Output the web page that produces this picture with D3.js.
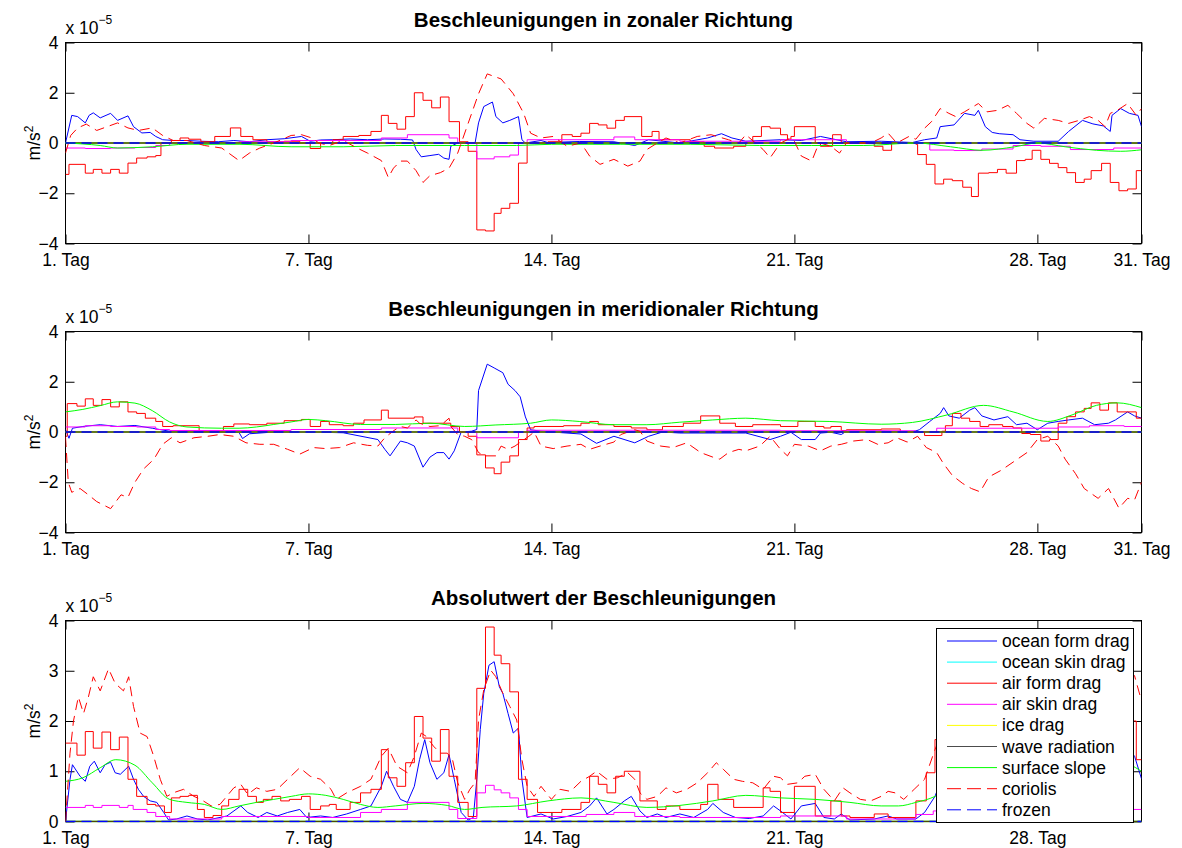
<!DOCTYPE html>
<html>
<head>
<meta charset="utf-8">
<script src="https://cdn.jsdelivr.net/npm/d3@7"></script>
<style>
  body { margin: 0; background: #fff; }
  svg text { font-family: "Liberation Sans", Arial, Helvetica, sans-serif; }
</style>
</head>
<body>
<svg id="chart" width="1182" height="848"></svg>
<script>
// x axis: days since start, labelled as "n. Tag"
const dayTicks = [0, 7, 14, 21, 28, 31];
const dayTickLabels = ['1. Tag', '7. Tag', '14. Tag', '21. Tag', '28. Tag', '31. Tag'];
const signedTicks = [-4, -2, 0, 2, 4];
const absTicks = [0, 1, 2, 3, 4];

const panelTitles = [
    'Beschleunigungen in zonaler Richtung',
    'Beschleunigungen in meridionaler Richtung',
    'Absolutwert der Beschleunigungen'
];

const seriesNames = ['ocean form drag', 'ocean skin drag', 'air form drag', 'air skin drag',
    'ice drag', 'wave radiation', 'surface slope', 'coriolis', 'frozen'];
const seriesColors = ['#0000ff', '#00ffff', '#ff0000', '#ff00ff',
    '#ffff00', '#000000', '#00ff00', '#ff0000', '#0000ff'];

// values in 1e-5 m/s^2, [day, value]
const zeroSeries = [[0, 0], [31, 0]];

// ---- zonal ----
const zonalOceanForm = [[0,0],[0.18,1.1],[0.35,1.05],[0.57,0.8],[0.68,1.1],[0.8,1.2],[1.0,1.0],[1.3,1.18],[1.5,0.9],[1.8,1.08],[1.96,0.65],[2.2,0.4],[2.44,0.42],[2.6,0.26],[2.8,0.13],[3.1,0.1],[3.5,0.1],[3.9,0.07],[4.4,0.05],[4.85,0.1],[5.3,0.05],[5.8,0.13],[6.3,0.17],[6.8,0.26],[7.05,0.07],[7.35,0.12],[7.7,0.13],[8.2,0.16],[8.7,0.13],[9.2,0.16],[9.65,0.15],[10.0,0.12],[10.1,-0.26],[10.25,-0.55],[10.5,-0.5],[10.75,-0.45],[10.9,-0.6],[11.05,-0.65],[11.1,-0.13],[11.3,0],[11.8,0],[11.9,0.8],[12.05,1.45],[12.3,1.63],[12.4,1.05],[12.6,0.8],[12.8,0.9],[13.05,1.05],[13.15,0.13],[13.25,0],[13.7,0.1],[13.9,0.02],[14.8,0.06],[15.8,0.05],[16.4,-0.1],[16.8,0.13],[17.7,0],[18.5,0.2],[18.9,0.37],[19.2,0.2],[19.6,0.07],[20.6,0.13],[21.2,0.1],[21.75,0.26],[22.5,0.05],[23.5,0.07],[24.4,0.02],[24.75,0.13],[25.1,0.2],[25.2,0.65],[25.6,0.72],[25.9,1.18],[26.2,1.1],[26.3,1.3],[26.5,0.65],[26.7,0.42],[26.9,0.37],[27.3,0.33],[27.5,0.13],[27.9,0.07],[28.6,0.07],[28.9,0.46],[29.3,0.9],[29.6,0.76],[29.9,0.68],[30.1,0.46],[30.15,1.1],[30.4,1.37],[30.65,1.18],[30.9,1.1],[31,0.65]];
const zonalAirForm = [[0,-1.25],[0.1,-0.85],[0.57,-1.2],[0.8,-1.05],[1.05,-1.2],[1.3,-1.05],[1.55,-1.2],[1.8,-0.8],[2.05,-0.6],[2.35,-0.55],[2.6,-0.5],[2.75,0],[3.05,0.1],[3.3,0.2],[3.55,0.15],[3.9,0.05],[4.3,0.26],[4.75,0.6],[5.05,0.26],[5.4,0.13],[5.8,0.05],[6.3,0.07],[6.75,0],[7.05,-0.22],[7.35,0],[7.7,0.13],[8.0,0.26],[8.45,0.3],[8.8,0.46],[9.1,1.1],[9.3,0.78],[9.55,0.55],[9.8,1.05],[10.05,2.0],[10.3,1.7],[10.55,1.4],[10.8,1.83],[11.05,0.85],[11.35,0.05],[11.6,-0.33],[11.85,-3.46],[12.1,-3.5],[12.35,-2.8],[12.55,-2.6],[12.8,-2.4],[13.05,-0.8],[13.3,0],[13.9,0.05],[14.3,0.33],[14.6,0.26],[14.85,0.39],[15.1,0.78],[15.35,0.72],[15.6,0.59],[15.85,0.9],[16.1,1.05],[16.6,0.26],[16.9,0.46],[17.1,0.13],[17.5,0.13],[18.0,0.05],[18.4,-0.13],[18.7,-0.2],[19.25,-0.13],[19.6,0],[19.8,0.26],[20.05,0.65],[20.3,0.59],[20.6,0.33],[20.8,0.15],[20.9,0.26],[21.0,0.65],[21.6,0],[21.75,-0.13],[22.1,0.33],[22.35,0],[23.0,-0.02],[23.3,-0.13],[23.55,-0.29],[23.8,0],[24.5,-0.05],[24.55,-0.46],[24.8,-0.85],[25.05,-1.63],[25.3,-1.44],[25.55,-1.5],[25.85,-1.76],[26.1,-2.13],[26.3,-1.2],[26.6,-1.18],[26.85,-1.05],[27.1,-1.2],[27.4,-0.7],[27.65,-0.65],[27.85,-0.29],[28.1,-0.65],[28.35,-0.81],[28.6,-0.98],[28.85,-1.18],[29.1,-1.57],[29.35,-1.44],[29.55,-1.1],[29.85,-0.81],[30.1,-1.57],[30.35,-1.9],[30.6,-1.83],[30.85,-1.1],[31,-1.1]];
const zonalAirSkin = [[0,-0.2],[0.57,-0.22],[1.3,-0.2],[2.0,-0.18],[2.6,-0.1],[3.0,0.0],[5.0,0.05],[6.5,0.1],[9.1,0.2],[9.85,0.33],[11.05,0.2],[11.3,0],[11.85,-0.63],[12.35,-0.55],[12.8,-0.48],[13.05,0],[13.3,0.13],[15.8,0.24],[16.4,0.13],[17.7,0.07],[20.6,0.13],[22.5,0],[24.9,-0.28],[25.6,-0.3],[26.4,-0.24],[27.3,-0.1],[28.1,-0.13],[28.95,-0.26],[30.2,-0.2],[31,-0.2]];
const zonalSlope = [[0,0],[1,-0.1],[1.5,-0.2],[2.5,-0.15],[3.5,-0.05],[5,-0.05],[6.5,-0.15],[8,-0.15],[9.5,-0.1],[11.5,-0.1],[13,-0.1],[14,-0.05],[16,-0.05],[18,-0.05],[20,-0.1],[21.5,-0.1],[23,-0.1],[24.5,0],[25.5,-0.15],[26.4,-0.29],[27.35,-0.15],[28.0,0],[28.8,-0.15],[29.7,-0.29],[30.4,-0.33],[31,-0.27]];
const zonalCoriolis = [[0,-0.4],[0.15,0.3],[0.35,0.6],[0.6,0.75],[0.9,0.5],[1.2,0.65],[1.5,0.8],[1.8,0.6],[2.1,0.5],[2.5,0.6],[2.8,0.3],[3.1,0.1],[3.5,0.1],[4.0,-0.1],[4.5,-0.2],[5.0,-0.7],[5.3,-0.4],[5.6,-0.2],[6.0,0.0],[6.5,0.3],[6.8,0.33],[7.1,0.2],[7.3,0.0],[7.6,-0.1],[8.0,0.1],[8.4,-0.2],[8.7,-0.4],[9.1,-0.7],[9.3,-1.37],[9.45,-1.0],[9.65,-0.72],[9.85,-0.72],[10.1,-1.1],[10.3,-1.57],[10.5,-1.3],[10.8,-1.18],[11.05,-1.0],[11.3,-0.4],[11.6,0.78],[11.9,1.96],[12.15,2.75],[12.55,2.55],[12.9,1.96],[13.2,1.18],[13.4,0.39],[13.7,0.2],[14.05,0.26],[14.45,-0.13],[14.85,0],[15.1,-0.52],[15.4,-0.85],[15.8,-0.65],[16.2,-0.92],[16.55,-0.72],[16.75,-0.26],[17.05,0],[17.3,0.2],[17.7,0],[18.2,0.26],[18.6,0.33],[19.1,0.13],[19.4,0],[19.6,0.33],[20.1,-0.26],[20.3,-0.59],[20.6,0],[20.9,0.2],[21.0,0.07],[21.2,-0.52],[21.5,-0.72],[21.65,-0.2],[21.75,0],[22.05,-0.13],[22.3,-0.4],[22.5,0],[23.2,0],[23.5,0.2],[23.7,0.39],[23.95,0],[24.3,0.26],[24.5,0.15],[24.75,0.59],[24.95,0.85],[25.2,1.37],[25.45,1.18],[25.65,1.05],[25.9,1.24],[26.3,1.57],[26.55,1.24],[26.85,1.3],[27.15,1.5],[27.4,1.18],[27.7,0.78],[27.9,0.59],[28.2,0.98],[28.6,0.9],[28.9,0.78],[29.2,0.9],[29.5,1.05],[29.75,0.9],[29.95,0.65],[30.1,1.18],[30.3,1.3],[30.6,1.57],[30.85,1.1],[31,1.37]];

// ---- meridional ----
const meridOceanForm = [[0,0.1],[0.1,-0.25],[0.2,0.15],[0.5,0.22],[1.0,0.29],[1.5,0.22],[2.0,0.26],[2.5,0.15],[3.0,0.03],[4.0,0],[5.0,-0.02],[5.1,-0.26],[5.3,-0.07],[6.0,0],[7.0,0],[8.0,-0.03],[9.0,-0.3],[9.2,-0.69],[9.35,-0.95],[9.65,-0.36],[9.85,-0.43],[10.05,-0.56],[10.3,-1.4],[10.5,-1.0],[10.7,-0.82],[10.9,-0.82],[11.05,-1.08],[11.2,-0.75],[11.4,0],[11.7,0.03],[11.85,0.1],[11.9,1.65],[12.15,2.7],[12.35,2.55],[12.6,2.36],[12.75,1.9],[12.95,1.65],[13.1,1.4],[13.25,0.6],[13.4,0.09],[13.7,0.03],[14.85,-0.08],[15.3,-0.45],[15.8,-0.17],[16.4,-0.43],[16.8,-0.17],[17.2,0],[17.7,-0.04],[18.65,-0.04],[19.6,-0.04],[20.3,-0.3],[20.6,-0.17],[20.9,-0.01],[21.2,-0.3],[21.6,-0.3],[21.75,-0.04],[22.05,-0.01],[22.35,-0.1],[22.5,0.03],[23.5,0.03],[24.4,0],[24.6,0.09],[24.9,0.42],[25.2,0.74],[25.3,0.97],[25.45,0.64],[25.75,0.55],[26.05,0.87],[26.2,0.97],[26.4,0.64],[26.75,0.48],[27.15,0.61],[27.4,0.29],[27.7,0.35],[28.0,0.09],[28.3,0.35],[28.6,0.42],[28.9,0.48],[29.3,0.55],[29.65,0.29],[30.05,0.35],[30.25,0.48],[30.6,0.8],[30.8,0.64],[31,0.55]];
const meridAirForm = [[0,-0.17],[0.05,1.13],[0.33,1.03],[0.57,1.32],[0.8,1.06],[1.05,1.29],[1.3,1.0],[1.55,1.2],[1.8,0.8],[2.05,0.74],[2.3,0.55],[2.6,0.42],[2.8,0.22],[3.1,0.25],[3.85,0.03],[4.55,0.22],[4.85,0.32],[5.3,0.29],[5.8,0.35],[6.3,0.45],[6.8,0.5],[7.05,0.22],[7.35,0.42],[7.6,0.29],[8.0,0.25],[8.3,0.35],[8.6,0.48],[9.1,0.87],[9.3,0.55],[10.05,0.6],[10.3,0.35],[11.1,0.22],[11.35,0],[11.6,-0.17],[11.85,-0.91],[12.1,-1.43],[12.35,-1.66],[12.55,-1.2],[12.8,-0.95],[13.05,-0.3],[13.3,0.16],[13.5,0.22],[14.35,0.25],[14.85,0.35],[15.1,0.42],[15.35,0.29],[15.8,0.22],[16.3,0.16],[16.75,0.09],[17.2,0.22],[17.8,0.35],[18.3,0.64],[18.85,0.35],[19.3,0.22],[19.8,0.29],[20.3,0.29],[20.6,0.22],[21.1,0.42],[21.6,0.22],[21.85,0.16],[22.05,0.22],[22.35,0.06],[22.5,0.09],[23.5,0.12],[24.05,0],[24.75,-0.14],[25.25,0.03],[25.35,0.25],[25.55,0.74],[25.8,0.55],[26.05,0.42],[26.35,0.22],[26.6,0.29],[27.0,0.22],[27.3,0.16],[27.55,-0.06],[27.8,-0.1],[28.1,-0.36],[28.35,-0.3],[28.6,0.35],[28.85,0.61],[29.1,0.8],[29.35,0.94],[29.55,1.16],[29.8,0.87],[30.05,1.16],[30.3,0.8],[30.6,0.8],[30.85,0.55],[31,0.55]];
const meridAirSkin = [[0,0.2],[0.57,0.25],[1.3,0.22],[2.05,0.2],[2.6,0.1],[3.0,0.06],[6.5,0.1],[9.1,0.16],[11.3,0.0],[11.85,-0.23],[13.05,0],[13.3,0.07],[20.6,0.05],[24.5,0.02],[25.1,0.15],[28.6,0.2],[29.5,0.25],[30.5,0.22],[31,0.2]];
const meridSlope = [[0,0.8],[0.5,0.9],[1.0,1.05],[1.5,1.2],[2.0,1.15],[2.5,0.85],[3.0,0.4],[3.5,0.2],[4.5,0.15],[5.0,0.15],[5.5,0.2],[6.0,0.3],[6.5,0.4],[7.0,0.5],[7.5,0.45],[8.5,0.3],[9.5,0.3],[10.5,0.35],[11.5,0.22],[12.4,0.28],[13.4,0.35],[14.0,0.48],[14.8,0.42],[15.8,0.29],[16.75,0.29],[17.7,0.39],[18.65,0.48],[19.6,0.55],[20.6,0.45],[22.0,0.42],[23.5,0.31],[24.4,0.38],[25.4,0.68],[26.45,1.06],[27.3,0.8],[28.3,0.42],[29.0,0.68],[29.7,1.06],[30.3,1.16],[31,0.97]];
const meridCoriolis = [[0,-0.2],[0.08,-2.0],[0.18,-2.4],[0.42,-2.25],[0.66,-2.5],[0.9,-2.77],[1.3,-3.05],[1.6,-2.5],[1.8,-2.6],[2.0,-2.0],[2.25,-1.47],[2.55,-1.08],[2.8,-0.49],[3.05,-0.23],[3.3,-0.43],[3.7,-0.23],[4.1,-0.17],[4.45,-0.1],[4.85,-0.17],[5.2,-0.43],[5.6,-0.49],[6.0,-0.49],[6.4,-0.69],[6.75,-0.88],[7.15,-0.62],[7.5,-0.66],[7.9,-0.62],[8.3,-0.43],[8.7,-0.53],[9.0,-0.56],[9.2,-0.23],[9.45,0.05],[9.65,0.22],[9.85,0.16],[10.1,0.48],[10.2,0.35],[10.5,0.22],[10.8,0.25],[11.05,0.55],[11.1,0.22],[11.3,-0.1],[11.5,-0.17],[11.7,-0.3],[11.9,-0.82],[12.1,-0.95],[12.4,-0.95],[12.55,-0.56],[12.75,-0.69],[12.95,-0.56],[13.15,-0.36],[13.35,-0.17],[13.5,0],[13.7,-0.56],[14.05,-0.66],[14.45,-0.56],[14.85,-0.49],[15.1,-0.69],[15.4,-0.56],[15.8,-0.4],[16.0,-0.1],[16.4,0.09],[16.55,0.03],[16.75,-0.36],[17.15,-0.56],[17.5,-0.62],[17.9,-0.43],[18.3,-0.82],[18.65,-1.0],[18.85,-1.08],[19.1,-0.82],[19.4,-0.69],[19.6,-0.75],[20.0,-0.56],[20.3,-0.17],[20.6,-0.69],[20.8,-0.95],[21.0,-0.49],[21.4,-0.56],[21.75,-0.75],[22.05,-0.56],[22.35,-0.49],[22.7,-0.36],[23.1,-0.3],[23.4,-0.49],[23.7,-0.43],[23.95,-0.23],[24.25,-0.4],[24.55,-0.17],[24.8,-0.62],[25.1,-0.82],[25.3,-1.27],[25.55,-1.73],[25.85,-2.05],[26.1,-2.25],[26.35,-2.38],[26.6,-1.79],[26.95,-1.53],[27.3,-1.2],[27.7,-0.82],[28.0,-0.3],[28.3,-0.17],[28.6,-0.56],[28.8,-1.08],[29.1,-1.66],[29.35,-2.25],[29.75,-2.64],[30.05,-2.25],[30.35,-3.03],[30.6,-2.64],[30.8,-2.7],[31,-2.0]];

// ---- absolute value ----
const absOceanForm = [[0,0],[0.13,0.84],[0.2,1.13],[0.42,0.9],[0.57,0.8],[0.7,1.1],[0.83,1.2],[1.0,0.97],[1.14,1.13],[1.3,1.18],[1.43,0.97],[1.58,0.94],[1.82,1.1],[1.96,0.84],[2.1,0.64],[2.25,0.5],[2.44,0.41],[2.63,0.38],[2.83,0.18],[2.97,0.03],[3.2,0.05],[3.5,0.11],[3.8,0.05],[4.1,0.03],[4.65,0.11],[5.05,0.31],[5.25,0.18],[5.55,0.08],[5.8,0.18],[6.1,0.11],[6.4,0.18],[6.75,0.24],[6.95,0.08],[7.35,0.11],[7.7,0.08],[8.1,0.15],[8.5,0.24],[8.8,0.31],[9.1,0.7],[9.25,1.0],[9.45,0.7],[9.65,0.44],[9.85,0.38],[10.05,0.7],[10.2,1.23],[10.35,1.63],[10.5,1.17],[10.7,0.84],[10.9,0.97],[11.05,1.33],[11.2,0.84],[11.4,0.18],[11.6,0.03],[11.75,0.08],[11.85,0.84],[11.95,1.83],[12.05,2.55],[12.2,3.11],[12.35,3.18],[12.5,2.68],[12.6,2.55],[12.75,2.15],[12.9,1.76],[13.05,1.86],[13.15,0.84],[13.3,0.08],[13.7,0.15],[14.05,0.05],[14.45,0.1],[14.85,0.18],[15.1,0.31],[15.3,0.47],[15.6,0.15],[15.8,0.24],[16.1,0.41],[16.3,0.5],[16.55,0.21],[16.75,0.08],[17.05,0.15],[17.3,0.08],[17.7,0.15],[18.1,0.08],[18.5,0.24],[18.65,0.36],[18.95,0.18],[19.3,0.08],[19.7,0.06],[20.1,0.11],[20.4,0.31],[20.6,0.21],[20.9,0.05],[21.2,0.31],[21.6,0.36],[21.85,0.08],[22.15,0.05],[22.35,0.15],[22.6,0.03],[23.3,0.05],[23.7,0.11],[23.95,0.05],[24.5,0.05],[24.75,0.18],[25.05,0.5],[25.3,0.95],[25.6,0.92],[25.9,1.3],[26.2,1.47],[26.5,0.88],[27.0,0.55],[27.5,0.3],[28.0,0.12],[28.5,0.4],[29.0,0.65],[29.5,0.9],[30.0,0.8],[30.3,1.4],[30.6,1.45],[30.8,1.3],[31,0.85]];
const absAirForm = [[0,1.56],[0.33,1.32],[0.57,1.79],[0.8,1.46],[1.05,1.78],[1.3,1.43],[1.55,1.68],[1.8,0.84],[2.05,0.5],[2.35,0.34],[2.6,0.31],[2.85,0.18],[3.05,0.47],[3.3,0.5],[3.55,0.52],[3.8,0.24],[4.0,0.08],[4.25,0.12],[4.5,0.31],[4.7,0.44],[5.0,0.64],[5.25,0.5],[5.5,0.38],[5.7,0.44],[5.95,0.5],[6.2,0.41],[6.45,0.44],[6.8,0.5],[7.05,0.24],[7.35,0.31],[7.6,0.34],[7.8,0.24],[8.2,0.38],[8.5,0.57],[8.8,0.64],[9.1,1.43],[9.3,0.87],[9.55,0.7],[9.8,1.17],[10.05,2.09],[10.3,1.66],[10.55,1.2],[10.8,1.83],[11.05,0.9],[11.3,0.38],[11.6,0.1],[11.85,2.65],[12.1,3.87],[12.35,3.31],[12.55,3.14],[12.8,2.58],[13.05,0.84],[13.3,0.44],[13.6,0.18],[14.3,0.24],[14.85,0.38],[15.1,0.9],[15.35,0.74],[15.6,0.57],[15.85,0.9],[16.1,1.0],[16.55,0.41],[17.05,0.24],[17.3,0.31],[17.7,0.24],[18.3,0.34],[18.5,0.74],[18.8,0.44],[19.25,0.28],[20.1,0.67],[20.3,0.6],[20.6,0.18],[21.0,0.7],[21.6,0.11],[22.05,0.41],[22.35,0.11],[22.6,0.08],[23.3,0.15],[23.7,0.08],[24.5,0.41],[24.8,0.97],[25.05,1.63],[25.3,1.46],[25.55,1.67],[25.8,1.84],[26.05,2.17],[26.3,1.22],[26.6,1.2],[26.85,1.07],[27.1,1.21],[27.4,0.72],[27.65,0.65],[27.85,0.3],[28.1,0.74],[28.35,0.86],[28.6,1.04],[28.85,1.33],[29.1,1.76],[29.35,1.72],[29.55,1.61],[29.85,1.2],[30.1,1.95],[30.35,2.06],[30.6,2.0],[30.85,1.23],[31,1.23]];
const absAirSkin = [[0,0.28],[0.57,0.32],[0.8,0.28],[1.05,0.32],[1.55,0.28],[1.8,0.32],[1.95,0.24],[2.35,0.18],[2.6,0.1],[3.0,0.05],[4.5,0.1],[7.0,0.08],[8.5,0.18],[9.1,0.24],[9.85,0.38],[11.05,0.24],[11.3,0.06],[11.85,0.57],[12.1,0.72],[12.35,0.63],[12.55,0.57],[12.8,0.47],[13.05,0.24],[13.3,0.1],[15.0,0.14],[15.8,0.18],[16.4,0.1],[17.7,0.08],[20.6,0.11],[22.5,0.05],[24.5,0.14],[25.0,0.21],[25.5,0.3],[26.4,0.28],[28.6,0.25],[29.5,0.3],[30.5,0.24],[31,0.24]];
const absSlope = [[0,0.8],[0.5,0.87],[1.0,1.07],[1.45,1.23],[2.0,1.12],[2.5,0.77],[3.0,0.44],[3.5,0.38],[4.0,0.34],[4.5,0.24],[5.0,0.31],[5.5,0.38],[6.0,0.44],[6.5,0.5],[7.0,0.55],[7.5,0.52],[8.0,0.44],[8.5,0.34],[9.0,0.28],[9.5,0.31],[10.3,0.36],[11.0,0.32],[11.5,0.24],[12.0,0.28],[13.0,0.31],[13.9,0.41],[14.85,0.47],[15.8,0.38],[16.75,0.28],[17.7,0.32],[18.65,0.41],[19.6,0.52],[20.6,0.47],[21.6,0.44],[22.6,0.38],[23.5,0.31],[24.0,0.31],[24.5,0.38],[25.05,0.5],[25.5,0.7],[26.45,1.1],[27.3,0.85],[28.3,0.42],[29.0,0.7],[29.7,1.1],[30.3,1.2],[31,1.0]];
const absCoriolis = [[0,0],[0.13,1.36],[0.23,2.0],[0.37,2.48],[0.52,2.15],[0.66,2.48],[0.8,2.88],[1.0,2.6],[1.24,3.04],[1.43,2.75],[1.67,2.6],[1.82,2.88],[1.96,2.29],[2.15,1.76],[2.35,1.69],[2.54,1.3],[2.73,0.84],[2.92,0.5],[3.1,0.57],[3.4,0.64],[3.7,0.5],[3.9,0.44],[4.2,0.31],[4.45,0.34],[4.85,0.67],[5.05,0.74],[5.25,0.54],[5.5,0.67],[5.8,0.6],[6.1,0.64],[6.4,0.84],[6.75,1.07],[7.05,0.9],[7.35,0.84],[7.65,0.64],[7.8,0.44],[8.1,0.57],[8.5,0.7],[8.8,0.84],[9.1,1.3],[9.3,1.46],[9.55,1.1],[9.85,0.97],[10.05,1.3],[10.25,1.76],[10.4,1.69],[10.6,1.5],[10.8,1.36],[11.0,1.36],[11.15,1.23],[11.3,0.77],[11.5,0.44],[11.65,0.64],[11.8,0.77],[11.9,2.02],[12.05,2.62],[12.25,3.01],[12.4,2.88],[12.6,2.55],[12.8,2.29],[13.0,2.02],[13.15,1.23],[13.3,0.7],[13.5,0.5],[13.7,0.7],[14.0,0.44],[14.25,0.64],[14.55,0.6],[14.85,0.8],[15.1,0.9],[15.3,1.0],[15.6,0.84],[15.9,0.87],[16.2,0.97],[16.4,0.84],[16.55,0.57],[16.75,0.44],[17.05,0.5],[17.3,0.67],[17.6,0.57],[17.9,0.64],[18.2,0.77],[18.5,0.97],[18.75,1.17],[18.95,1.04],[19.25,0.84],[19.5,0.8],[19.8,0.77],[20.1,0.64],[20.4,0.9],[20.6,0.87],[20.8,0.74],[21.1,0.77],[21.3,0.9],[21.6,0.94],[21.85,0.64],[22.15,0.41],[22.4,0.67],[22.6,0.57],[22.9,0.44],[23.2,0.41],[23.5,0.5],[23.7,0.6],[23.9,0.57],[24.15,0.44],[24.45,0.64],[24.75,0.84],[25.05,1.43],[25.3,1.85],[25.6,2.0],[25.9,2.4],[26.3,2.85],[26.6,2.2],[27.0,2.0],[27.3,1.85],[27.7,1.1],[28.0,0.6],[28.3,1.0],[28.6,1.0],[28.8,1.35],[29.1,1.9],[29.35,2.4],[29.75,2.8],[30.05,2.3],[30.35,3.3],[30.6,3.05],[30.8,2.9],[31,2.4]];

// ---------------------------------------------------------------
const svg = d3.select('#chart');
const fontFamily = '"Liberation Sans", Arial, Helvetica, sans-serif';

const plotLeft = 65.5;
const plotRight = 1141.5;
const plotHeight = 201;
const tickLen = 9;

const seriesCurves = [d3.curveLinear, d3.curveLinear, d3.curveStepAfter, d3.curveStepAfter,
    d3.curveLinear, d3.curveLinear, d3.curveMonotoneX, d3.curveLinear, d3.curveLinear];
const seriesDash = [null, null, null, null, null, null, null, '10,6', '10,6'];
const seriesOpacity = [1, 1, 1, 1, 1, 0.7, 1, 1, 1];

const panels = [
    { title: panelTitles[0], top: 42.5, yDomain: [-4, 4], yTicks: signedTicks, xTicks: dayTicks,
      data: [zonalOceanForm, zeroSeries, zonalAirForm, zonalAirSkin, zeroSeries, zeroSeries, zonalSlope, zonalCoriolis, zeroSeries] },
    { title: panelTitles[1], top: 331.5, yDomain: [-4, 4], yTicks: signedTicks, xTicks: dayTicks,
      data: [meridOceanForm, zeroSeries, meridAirForm, meridAirSkin, zeroSeries, zeroSeries, meridSlope, meridCoriolis, zeroSeries] },
    { title: panelTitles[2], top: 620.5, yDomain: [0, 4], yTicks: absTicks, xTicks: dayTicks.slice(0, 5),
      data: [absOceanForm, zeroSeries, absAirForm, absAirSkin, zeroSeries, zeroSeries, absSlope, absCoriolis, zeroSeries] }
];

const x = d3.scaleLinear().domain([0, 31]).range([plotLeft, plotRight]);

function styleAxis(g) {
    g.attr('font-family', fontFamily).attr('font-size', 17.5);
    g.select('.domain').remove();
    g.selectAll('.tick line').attr('stroke', '#000');
    g.selectAll('.tick text').attr('fill', '#000');
}

panels.forEach(function (p, pi) {
    const bottom = p.top + plotHeight;
    const y = d3.scaleLinear().domain(p.yDomain).range([bottom, p.top]);
    const g = svg.append('g');

    g.append('rect')
        .attr('x', plotLeft).attr('y', p.top)
        .attr('width', plotRight - plotLeft).attr('height', plotHeight)
        .attr('fill', '#fff').attr('stroke', '#000').attr('stroke-width', 1);

    // ticks on all four sides, pointing inwards
    g.append('g').attr('transform', `translate(0,${bottom})`)
        .call(d3.axisBottom(x).tickValues(p.xTicks).tickSize(-tickLen).tickPadding(10)
            .tickFormat(d => dayTickLabels[dayTicks.indexOf(d)]))
        .call(styleAxis);
    g.append('g').attr('transform', `translate(0,${p.top})`)
        .call(d3.axisTop(x).tickValues(p.xTicks).tickSize(-tickLen).tickFormat(''))
        .call(styleAxis);
    g.append('g').attr('transform', `translate(${plotLeft},0)`)
        .call(d3.axisLeft(y).tickValues(p.yTicks).tickSize(-tickLen).tickPadding(7)
            .tickFormat(d3.format('d')))
        .call(styleAxis);
    g.append('g').attr('transform', `translate(${plotRight},0)`)
        .call(d3.axisRight(y).tickValues(p.yTicks).tickSize(-tickLen).tickFormat(''))
        .call(styleAxis);

    // title
    g.append('text')
        .attr('x', (plotLeft + plotRight) / 2).attr('y', p.top - 16)
        .attr('text-anchor', 'middle')
        .attr('font-size', 20.5).attr('font-weight', 'bold')
        .text(p.title);

    // exponent label
    const expo = g.append('text')
        .attr('x', plotLeft).attr('y', p.top - 9)
        .attr('font-size', 17.5);
    expo.append('tspan').text('x 10');
    expo.append('tspan').attr('dy', -10).attr('font-size', 12).text('\u22125');

    // y label
    const yl = g.append('text')
        .attr('transform', `translate(40,${(p.top + bottom) / 2}) rotate(-90)`)
        .attr('text-anchor', 'middle')
        .attr('font-size', 17.5);
    yl.append('tspan').text('m/s');
    yl.append('tspan').attr('dy', -7).attr('font-size', 12).text('2');

    // data
    g.append('clipPath').attr('id', 'clip' + pi)
        .append('rect')
        .attr('x', plotLeft).attr('y', p.top - 1)
        .attr('width', plotRight - plotLeft).attr('height', plotHeight + 2);

    const lines = g.append('g').attr('clip-path', `url(#clip${pi})`);
    p.data.forEach(function (values, si) {
        const line = d3.line()
            .x(d => x(d[0]))
            .y(d => y(d[1]))
            .curve(seriesCurves[si]);
        lines.append('path')
            .datum(values)
            .attr('d', line)
            .attr('fill', 'none')
            .attr('stroke', seriesColors[si])
            .attr('stroke-opacity', seriesOpacity[si])
            .attr('stroke-width', values === zeroSeries ? 1.6 : 1)
            .attr('stroke-dasharray', seriesDash[si]);
    });
});

// legend in the last panel
const legendBox = { x: 936, y: 628, w: 197, h: 194 };
const legend = svg.append('g');
legend.append('rect')
    .attr('x', legendBox.x + 0.5).attr('y', legendBox.y + 0.5)
    .attr('width', legendBox.w).attr('height', legendBox.h)
    .attr('fill', '#fff').attr('stroke', '#000').attr('stroke-width', 1);

seriesNames.forEach(function (name, i) {
    const cy = legendBox.y + 13 + i * 21.1;
    legend.append('line')
        .attr('x1', legendBox.x + 11).attr('x2', legendBox.x + 61)
        .attr('y1', cy).attr('y2', cy)
        .attr('stroke', seriesColors[i])
        .attr('stroke-opacity', seriesOpacity[i])
        .attr('stroke-width', 1)
        .attr('stroke-dasharray', seriesDash[i] ? '14,6' : null);
    legend.append('text')
        .attr('x', legendBox.x + 66).attr('y', cy + 6)
        .attr('font-size', 17.5)
        .text(name);
});
</script>
</body>
</html>
